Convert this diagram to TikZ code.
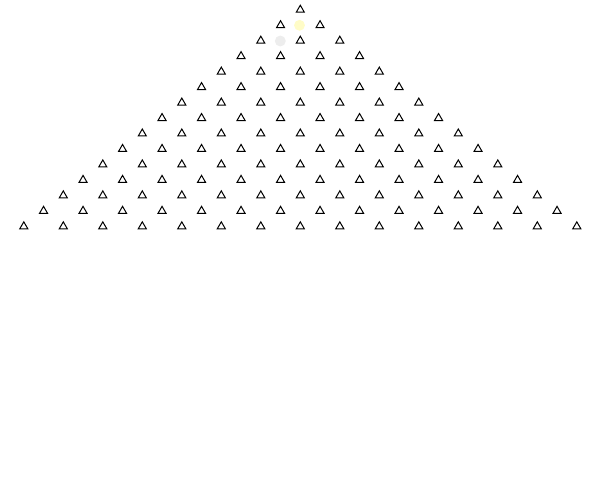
\documentclass[tikz,border=0pt]{standalone}
\usetikzlibrary{shapes.geometric}
\begin{document}
\begin{tikzpicture}[x=0.75pt, y=-0.75pt,
    punto/.style={regular polygon, regular polygon sides=3, draw, line width=0.75pt,
                  inner sep=0pt, minimum size=7pt},
    marca/.style={circle, inner sep=0pt, minimum size=8.2pt}]
      % Marco
      \useasboundingbox (0,0) rectangle (600,500);

      % Marcas de color
      \node[marca, fill=yellow!22] (amarilla) at (299.5, 25.3) {};
      \node[marca, fill=black!7] (gris) at (280.3, 41) {};

      % Red triangular
      \foreach \r in {0,...,14} {
          \foreach \k in {0,...,\r} {
              \node[punto] (t-\r-\k) at ({300.3+(2*\k-\r)*19.75}, {9.9+\r*15.47}) {};
          }
      }
    \end{tikzpicture}
\end{document}
